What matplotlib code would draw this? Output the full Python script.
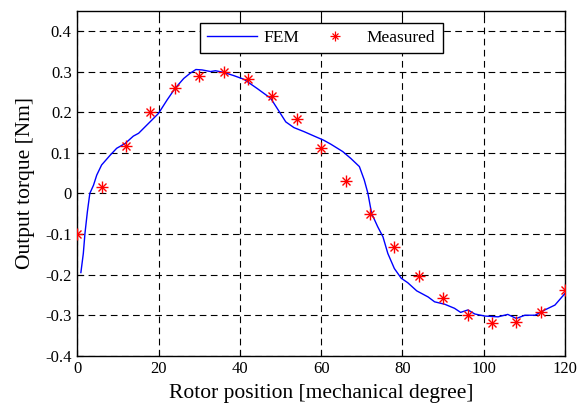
import matplotlib
matplotlib.use("Agg")
import matplotlib.pyplot as plt
from matplotlib.lines import Line2D
from matplotlib.legend_handler import HandlerTuple

# FEM curve
fem_x = [0.9, 1.5, 1.9, 2.5, 3.1, 4.0, 4.8, 6.0, 8.1, 9.7, 11.8, 13.8, 15.1, 17.5, 20,
         22.1, 24.1, 26.2, 27.8, 29.2, 30.7, 32.8, 34, 36, 38.5, 41, 44.3, 47.6, 49.2, 51.3,
         53.3, 55.8, 58.3, 60.6, 62.4, 65.3, 67.3, 69.4, 70.6, 71.5, 72.4, 73.9, 75.2, 76.4, 78,
         79.7, 81.3, 83.5, 86.3, 87.9, 90.4, 92.8, 94.3, 96.1, 97.8, 100.2, 103.5, 105.9, 108, 110.1,
         112.6, 115, 117.5, 120]
fem_y = [-0.195, -0.148, -0.099, -0.045, 0.0, 0.02, 0.045, 0.07, 0.094, 0.111, 0.123, 0.141, 0.148, 0.172, 0.197,
         0.23, 0.259, 0.283, 0.296, 0.305, 0.304, 0.30, 0.302, 0.298, 0.29, 0.281, 0.258, 0.234, 0.209, 0.176,
         0.162, 0.152, 0.141, 0.131, 0.121, 0.103, 0.086, 0.066, 0.033, 0.0, -0.049, -0.082, -0.107, -0.148, -0.185,
         -0.209, -0.22, -0.24, -0.255, -0.267, -0.273, -0.283, -0.293, -0.287, -0.297, -0.302, -0.304, -0.298, -0.308, -0.30,
         -0.30, -0.287, -0.275, -0.246]

# Measured points
meas_x = [0, 6, 12, 18, 24, 30, 36, 42, 48, 54, 60, 66, 72, 78, 84, 90, 96, 102, 108, 114, 120]
meas_y = [-0.099, 0.015, 0.117, 0.2, 0.259, 0.29, 0.30, 0.281, 0.24, 0.183, 0.111, 0.03, -0.05, -0.132,
          -0.204, -0.257, -0.30, -0.32, -0.316, -0.291, -0.238]

x_ticks = [0, 20, 40, 60, 80, 100, 120]
y_ticks = [-0.4, -0.3, -0.2, -0.1, 0, 0.1, 0.2, 0.3, 0.4]
y_tick_labels = ["-0.4", "-0.3", "-0.2", "-0.1", "0", "0.1", "0.2", "0.3", "0.4"]

plt.rcParams['font.family'] = ['Liberation Serif', 'DejaVu Serif']

fig = plt.figure(figsize=(5.85, 4.09), dpi=100)
ax = fig.add_axes([0.132, 0.130, 0.834, 0.844])

fem_line, = ax.plot(fem_x, fem_y, color='#0000ff', lw=1.0)
ax.plot(meas_x, meas_y, linestyle='none', marker='+', markersize=8,
        markeredgewidth=1.0, color='#ff0000', zorder=3)
ax.plot(meas_x, meas_y, linestyle='none', marker='x', markersize=5.5,
        markeredgewidth=1.0, color='#ff0000', zorder=3)

ax.set_xlim(0, 120)
ax.set_ylim(-0.4, 0.45)
ax.set_xticks(x_ticks)
ax.set_yticks(y_ticks)
ax.set_yticklabels(y_tick_labels)
ax.tick_params(direction='in', top=True, right=True, labelsize=12, length=4, width=0.8, pad=4)
ax.grid(True, color='black', linestyle=(0, (6, 4)), linewidth=0.8)
ax.set_axisbelow(True)
for s in ax.spines.values():
    s.set_linewidth(1.0)

ax.set_xlabel('Rotor position [mechanical degree]', fontsize=15.5, labelpad=5)
ax.set_ylabel('Output torque [Nm]', fontsize=15.5, labelpad=7)

meas_proxy_a = Line2D([], [], linestyle='none', marker='+', markersize=7, markeredgewidth=0.9, color='#ff0000')
meas_proxy_b = Line2D([], [], linestyle='none', marker='x', markersize=4.5, markeredgewidth=0.9, color='#ff0000')
leg = ax.legend([fem_line, (meas_proxy_a, meas_proxy_b)], ['FEM', 'Measured'],
                handler_map={tuple: HandlerTuple(ndivide=1, pad=0)},
                loc='upper center', ncol=2, fontsize=12.5, frameon=True, fancybox=False,
                edgecolor='black', framealpha=1, handlelength=2.88, handletextpad=0.4,
                columnspacing=0.6, borderpad=0.4, bbox_to_anchor=(0.5, 0.99))
leg.get_frame().set_linewidth(1.0)

fig.savefig('out.png', dpi=100)
